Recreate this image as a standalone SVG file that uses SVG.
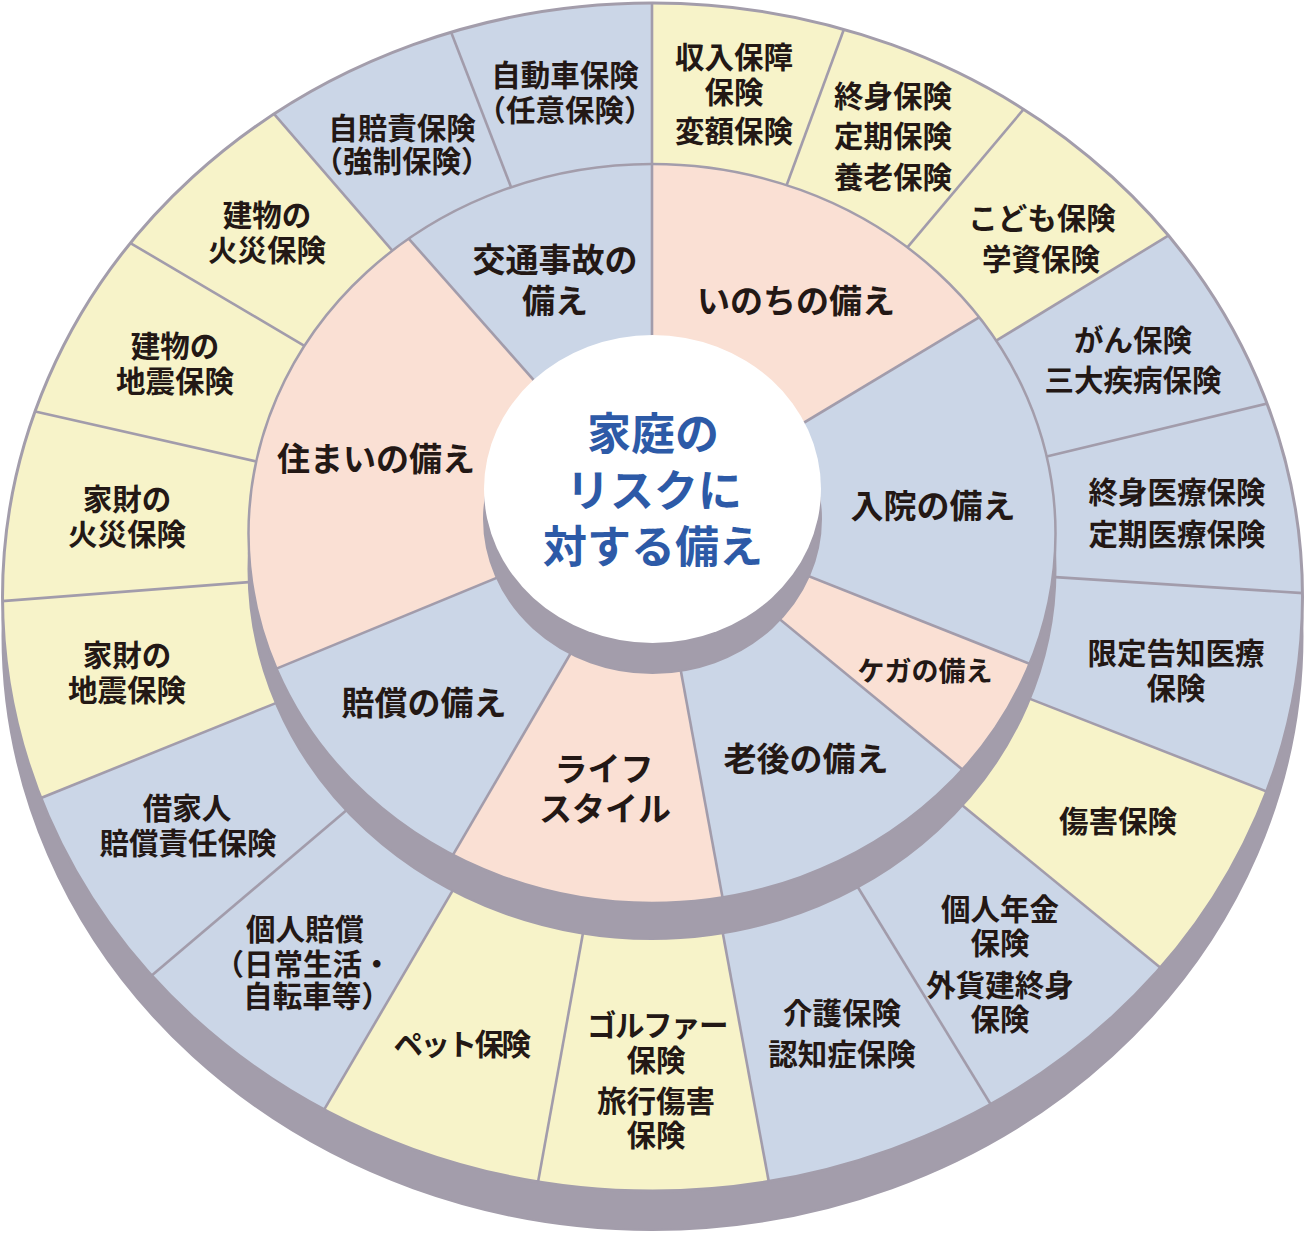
<svg xmlns="http://www.w3.org/2000/svg" width="1305" height="1233" viewBox="0 0 1305 1233">
<defs>
<style>
.y{fill:#f7f3c9}
.b{fill:#cbd6e7}
.p{fill:#fae0d4}
.sh{fill:#a39dab;stroke:#a39dab;stroke-width:2}
.rim{fill:none;stroke:#a39dab}
.ln{stroke:#a29cab;stroke-width:2.6;fill:none}
text{font-family:"Noto Sans CJK JP","Noto Sans CJK SC",sans-serif;font-weight:700;fill:#231815;text-anchor:middle;dominant-baseline:central}
.o{font-size:29.5px}
.m{font-size:33px}
.k{font-size:27px}
.c{font-size:44px;fill:#2d5aa7}
</style>
<clipPath id="cO"><ellipse cx="652.5" cy="597" rx="650" ry="594"/></clipPath>
<clipPath id="cM"><ellipse cx="652" cy="533.5" rx="403.5" ry="369.5"/></clipPath>
</defs>

<ellipse id="outer-shadow" class="sh" cx="652.5" cy="636" rx="650" ry="594"/>

<g id="n-income"><polygon class="y" clip-path="url(#cO)" points="652,551 652,-545 1036,-493"/>
<text class="o" x="734" y="55">収入保障</text><text class="o" x="734" y="90">保険</text><text class="o" x="734" y="129">変額保険</text></g>
<g id="n-whole-life"><polygon class="y" clip-path="url(#cO)" points="652,551 1036,-493 1394,-331"/>
<text class="o" x="893" y="94">終身保険</text><text class="o" x="893" y="134">定期保険</text><text class="o" x="893" y="175">養老保険</text></g>
<g id="n-child"><polygon class="y" clip-path="url(#cO)" points="652,551 1394,-331 1680,-77"/>
<text class="o" x="1042" y="216">こども保険</text><text class="o" x="1041" y="257">学資保険</text></g>
<g id="n-cancer"><polygon class="b" clip-path="url(#cO)" points="652,551 1680,-77 1878,257"/>
<text class="o" x="1133" y="338">がん保険</text><text class="o" x="1133" y="378">三大疾病保険</text></g>
<g id="n-medical"><polygon class="b" clip-path="url(#cO)" points="652,551 1878,257 1952,635"/>
<text class="o" x="1177" y="490">終身医療保険</text><text class="o" x="1177" y="532">定期医療保険</text></g>
<g id="n-limited"><polygon class="b" clip-path="url(#cO)" points="652,551 1952,635 1884,1033"/>
<text class="o" x="1176" y="651">限定告知医療</text><text class="o" x="1176" y="686">保険</text></g>
<g id="n-injury"><polygon class="y" clip-path="url(#cO)" points="652,551 1884,1033 1672,1387"/>
<text class="o" x="1118" y="819">傷害保険</text></g>
<g id="n-pension"><polygon class="b" clip-path="url(#cO)" points="652,551 1672,1387 1334,1665"/>
<text class="o" x="1000" y="907">個人年金</text><text class="o" x="1000" y="941">保険</text><text class="o" x="1000" y="983">外貨建終身</text><text class="o" x="1000" y="1017">保険</text></g>
<g id="n-care"><polygon class="b" clip-path="url(#cO)" points="652,551 1334,1665 888,1825"/>
<text class="o" x="842" y="1011">介護保険</text><text class="o" x="842" y="1052">認知症保険</text></g>
<g id="n-golf"><polygon class="y" clip-path="url(#cO)" points="652,551 888,1825 422,1825"/>
<text class="o" x="657" y="1023" letter-spacing="-1.5">ゴルファー</text><text class="o" x="656" y="1058">保険</text><text class="o" x="656" y="1099">旅行傷害</text><text class="o" x="656" y="1133">保険</text></g>
<g id="n-pet"><polygon class="y" clip-path="url(#cO)" points="652,551 422,1825 -10,1679"/>
<text class="o" x="461" y="1042" letter-spacing="-2.5">ペット保険</text></g>
<g id="n-personal"><polygon class="b" clip-path="url(#cO)" points="652,551 -10,1679 -352,1403"/>
<text class="o" x="305" y="927">個人賠償</text><text class="o" x="303" y="962">（日常生活・</text><text class="o" x="317" y="994">自転車等）</text></g>
<g id="n-tenant"><polygon class="b" clip-path="url(#cO)" points="652,551 -352,1403 -570,1045"/>
<text class="o" x="187" y="806">借家人</text><text class="o" x="188" y="841">賠償責任保険</text></g>
<g id="n-contents-quake"><polygon class="y" clip-path="url(#cO)" points="652,551 -570,1045 -646,651"/>
<text class="o" x="127" y="653">家財の</text><text class="o" x="127" y="688">地震保険</text></g>
<g id="n-contents-fire"><polygon class="y" clip-path="url(#cO)" points="652,551 -646,651 -578,273"/>
<text class="o" x="127" y="497">家財の</text><text class="o" x="127" y="532">火災保険</text></g>
<g id="n-building-quake"><polygon class="y" clip-path="url(#cO)" points="652,551 -578,273 -388,-63"/>
<text class="o" x="175" y="344">建物の</text><text class="o" x="175" y="379">地震保険</text></g>
<g id="n-building-fire"><polygon class="y" clip-path="url(#cO)" points="652,551 -388,-63 -104,-323"/>
<text class="o" x="267" y="213">建物の</text><text class="o" x="267" y="248">火災保険</text></g>
<g id="n-cali"><polygon class="b" clip-path="url(#cO)" points="652,551 -104,-323 250,-487"/>
<text class="o" x="402" y="126">自賠責保険</text><text class="o" x="402" y="159">（強制保険）</text></g>
<g id="n-auto"><polygon class="b" clip-path="url(#cO)" points="652,551 250,-487 652,-545"/>
<text class="o" x="565" y="73">自動車保険</text><text class="o" x="565" y="108">（任意保険）</text></g>

<ellipse id="outer-rim" class="rim" stroke-width="3" cx="652.5" cy="597" rx="650" ry="594"/>

<ellipse id="middle-shadow" class="sh" cx="652" cy="569.5" rx="403.5" ry="369.5"/>

<g id="n-inochi"><polygon class="p" clip-path="url(#cM)" points="652,514 652,-361 1467,24"/>
<text class="m" x="796" y="299">いのちの備え</text></g>
<g id="n-nyuin"><polygon class="b" clip-path="url(#cM)" points="652,514 1467,24 1597,889"/>
<text class="m" x="933" y="504">入院の備え</text></g>
<g id="n-kega"><polygon class="p" clip-path="url(#cM)" points="652,514 1597,889 1429.5,1154"/>
<text class="k" x="925" y="669">ケガの備え</text></g>
<g id="n-rougo"><polygon class="b" clip-path="url(#cM)" points="652,514 1429.5,1154 829.5,1479"/>
<text class="m" x="806" y="757">老後の備え</text></g>
<g id="n-lifestyle"><polygon class="p" clip-path="url(#cM)" points="652,514 829.5,1479 154.5,1366.5"/>
<text class="m" x="604" y="767">ライフ</text><text class="m" x="605" y="807">スタイル</text></g>
<g id="n-baisho"><polygon class="b" clip-path="url(#cM)" points="652,514 154.5,1366.5 -283,899"/>
<text class="m" x="424" y="701">賠償の備え</text></g>
<g id="n-sumai"><polygon class="p" clip-path="url(#cM)" points="652,514 -283,899 47,-171"/>
<text class="m" x="376" y="457">住まいの備え</text></g>
<g id="n-kotsu"><polygon class="b" clip-path="url(#cM)" points="652,514 47,-171 652,-361"/>
<text class="m" x="555" y="258">交通事故の</text><text class="m" x="555" y="299">備え</text></g>

<ellipse id="middle-rim" class="rim" stroke-width="2.5" cx="652" cy="533.5" rx="403.5" ry="369.5"/>

<g id="connectors">
<g clip-path="url(#cO)">
<line class="ln" x1="652" y1="164" x2="652" y2="-14"/>
<line class="ln" x1="786.6" y1="185.2" x2="849.8" y2="13.3"/>
<line class="ln" x1="907.4" y1="247.4" x2="1034.1" y2="96.8"/>
<line class="ln" x1="996.2" y1="340.7" x2="1181.4" y2="227.6"/>
<line class="ln" x1="1046.6" y1="456.4" x2="1283.4" y2="399.6"/>
<line class="ln" x1="1055.4" y1="577.1" x2="1321.5" y2="594.3"/>
<line class="ln" x1="1030" y1="698.9" x2="1286.5" y2="799.2"/>
<line class="ln" x1="962.5" y1="805.5" x2="1177.3" y2="981.5"/>
<line class="ln" x1="857.9" y1="887.3" x2="1003.2" y2="1124.7"/>
<line class="ln" x1="722.8" y1="933.3" x2="773.5" y2="1207.1"/>
<line class="ln" x1="582.9" y1="933.6" x2="533.5" y2="1207.1"/>
<line class="ln" x1="452.6" y1="890.7" x2="311.1" y2="1131.9"/>
<line class="ln" x1="346.2" y1="810.5" x2="134.9" y2="989.8"/>
<line class="ln" x1="275.8" y1="703.1" x2="22.7" y2="805.4"/>
<line class="ln" x1="248.7" y1="582.1" x2="-16.5" y2="602.5"/>
<line class="ln" x1="256.2" y1="461.5" x2="18.6" y2="407.8"/>
<line class="ln" x1="304.4" y1="345.8" x2="116.4" y2="234.8"/>
<line class="ln" x1="392.3" y1="250.7" x2="262.7" y2="100.9"/>
<line class="ln" x1="511.1" y1="187.2" x2="445" y2="16.4"/>
</g>
<g clip-path="url(#cM)">
<line class="ln" x1="652" y1="514" x2="652" y2="153.5"/>
<line class="ln" x1="652" y1="514" x2="987.8" y2="312.1"/>
<line class="ln" x1="652" y1="514" x2="1041.3" y2="668.5"/>
<line class="ln" x1="652" y1="514" x2="972.3" y2="777.7"/>
<line class="ln" x1="652" y1="514" x2="725.1" y2="911.6"/>
<line class="ln" x1="652" y1="514" x2="447" y2="865.2"/>
<line class="ln" x1="652" y1="514" x2="266.8" y2="672.6"/>
<line class="ln" x1="652" y1="514" x2="402.7" y2="231.8"/>
</g>
</g>

<g id="n-center">
<ellipse class="sh" cx="652.5" cy="519" rx="168.5" ry="154" stroke-width="0"/>
<ellipse fill="#ffffff" cx="652.5" cy="489" rx="168.5" ry="154"/>
<text class="c" x="653" y="431">家庭の</text>
<text class="c" x="654" y="488">リスクに</text>
<text class="c" x="653" y="544">対する備え</text>
</g>
</svg>
